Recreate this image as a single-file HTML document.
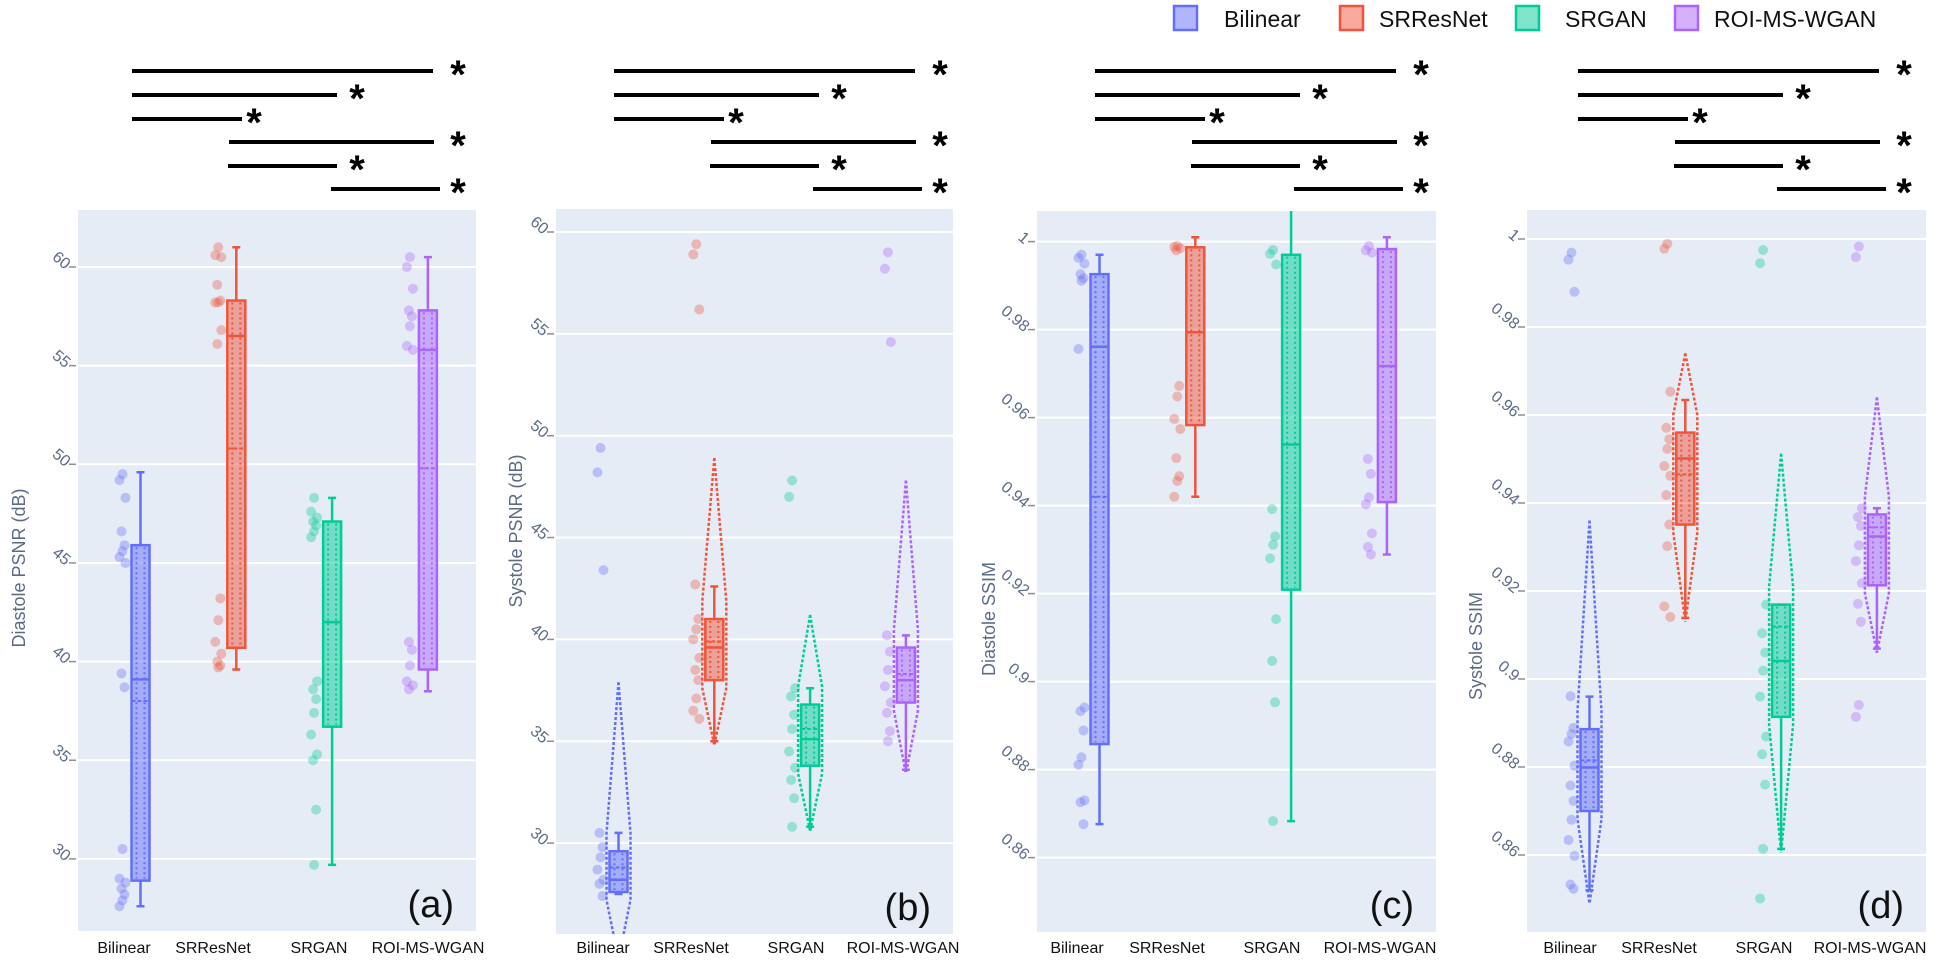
<!DOCTYPE html>
<html><head><meta charset="utf-8"><style>
html,body{margin:0;padding:0;background:#fff;}
svg{display:block;font-family:"Liberation Sans",sans-serif;}
</style></head><body>
<svg id="fig" width="1948" height="964" viewBox="0 0 1948 964" xmlns="http://www.w3.org/2000/svg">
<defs id="defs"></defs>
<g id="legend"></g>
<g id="panels"></g>
</svg>
<script>
const categories = ["Bilinear","SRResNet","SRGAN","ROI-MS-WGAN"];
const colors = ["#636efa","#ef553b","#00cc96","#ab63fa"];

// Panel (a) Diastole PSNR
const aUpper = [49.6, 61.0, 48.3, 60.5];
const aQ3 = [45.9, 58.3, 47.1, 57.8];
const aMedian = [39.1, 56.5, 42.0, 55.8];
const aMean = [38.0, 50.8, 42.0, 49.8];
const aQ1 = [28.9, 40.7, 36.7, 39.6];
const aLower = [27.6, 39.6, 29.7, 38.5];
const aPoints = [
  [49.5,49.2,48.3,46.6,45.9,45.6,45.3,45.0,39.4,38.7,30.5,29.0,28.8,28.5,28.2,27.9,27.6],
  [61.0,60.6,60.5,59.1,58.3,58.2,58.2,56.8,56.1,43.2,42.1,41.0,40.4,40.0,39.8,39.7],
  [48.3,47.6,47.3,47.1,46.9,46.6,46.3,39.0,38.6,38.1,37.4,36.3,35.3,35.0,32.5,29.7],
  [60.5,60.0,58.9,57.8,57.5,57.0,56.0,55.8,41.0,40.6,39.8,39.0,38.8,38.6]
];
// Panel (b) Systole PSNR
const bUpper = [30.5, 42.6, 37.6, 40.2];
const bQ3 = [29.6, 41.0, 36.8, 39.6];
const bMedian = [28.2, 39.6, 35.1, 38.0];
const bMean = [28.8, 39.9, 35.6, 38.3];
const bQ1 = [27.6, 38.0, 33.8, 36.9];
const bLower = [27.5, 35.0, 30.8, 33.6];
const bViolinTop = [37.9, 48.9, 41.2, 47.8];
const bViolinBottom = [24.5, 35.0, 30.8, 33.6];
const bPoints = [
  [49.4,48.2,43.4,30.5,29.8,29.3,28.7,28.2,28.0,27.4],
  [59.4,58.9,56.2,42.7,41.0,40.5,40.0,39.1,38.5,38.0,37.1,36.5,36.1],
  [47.8,47.0,37.6,37.2,36.3,35.6,34.5,33.7,33.1,32.2,30.8],
  [59.0,58.2,54.6,40.2,39.4,38.5,37.7,36.9,36.4,35.5,35.0]
];
// Panel (c) Diastole SSIM
const cUpper = [0.997, 1.001, 1.01, 1.001];
const cQ3 = [0.9926, 0.9987, 0.997, 0.9983];
const cMedian = [0.9761, 0.9794, 0.9539, 0.9717];
const cMean = [0.942, 0.9794, 0.9539, 0.9717];
const cQ1 = [0.8858, 0.9583, 0.9209, 0.9408];
const cLower = [0.8676, 0.942, 0.8683, 0.9289];
const cPoints = [
  [0.997,0.9963,0.995,0.9926,0.9917,0.9911,0.9756,0.8941,0.8933,0.8889,0.8828,0.8811,0.873,0.8726,0.8676],
  [0.999,0.9988,0.9985,0.998,0.9672,0.9648,0.9597,0.9574,0.9508,0.9467,0.9456,0.942],
  [0.9981,0.9972,0.9948,0.9392,0.933,0.9311,0.928,0.9142,0.9047,0.8953,0.8683],
  [0.999,0.998,0.9975,0.9506,0.9472,0.9419,0.9403,0.9337,0.9306,0.9289]
];
// Panel (d) Systole SSIM
const dUpper = [0.896, 0.9634, 0.9169, 0.9388];
const dQ3 = [0.8886, 0.956, 0.9169, 0.9374];
const dMedian = [0.8799, 0.9501, 0.9041, 0.9324];
const dMean = [0.8815, 0.9465, 0.9119, 0.9345];
const dQ1 = [0.87, 0.9351, 0.8914, 0.9213];
const dLower = [0.852, 0.9139, 0.8614, 0.9069];
const dViolinTop = [0.936, 0.974, 0.9512, 0.964];
const dViolinBottom = [0.8498, 0.9139, 0.8614, 0.9069];
const dPoints = [
  [0.9969,0.9953,0.988,0.8961,0.8889,0.8875,0.8858,0.8803,0.8758,0.8723,0.868,0.8634,0.8598,0.8533,0.8523],
  [0.9989,0.9978,0.9653,0.9571,0.9545,0.9523,0.9484,0.9462,0.9418,0.9351,0.9302,0.9165,0.9141],
  [0.9975,0.9945,0.9169,0.9104,0.906,0.9019,0.896,0.8869,0.8829,0.876,0.8614,0.8501],
  [0.9983,0.9959,0.9388,0.9368,0.9348,0.9304,0.9268,0.9218,0.9171,0.913,0.8941,0.8914]
];
const psnrTicks = [30,35,40,45,50,55,60];
const ssimTicks = [0.86,0.88,0.9,0.92,0.94,0.96,0.98,1];
const ssimTickLabels = ["0.86","0.88","0.9","0.92","0.94","0.96","0.98","1"];
const psnrTickLabels = ["30","35","40","45","50","55","60"];

const NS = "http://www.w3.org/2000/svg";
function mk(tag, attrs, parent){const e=document.createElementNS(NS,tag);for(const k in attrs)e.setAttribute(k,attrs[k]);if(parent)parent.appendChild(e);return e;}
function rgba(hex,a){const n=parseInt(hex.slice(1),16);return `rgba(${n>>16},${(n>>8)&255},${n&255},${a})`;}

const panelDefs = [
 {key:"a",x0:78,x1:476,y0:210,y1:931,refV:60,refY:267,ppu:19.73,ticks:psnrTicks,tickLabels:psnrTickLabels,title:"Diastole PSNR (dB)",titleX:20,titleY:568,
  up:aUpper,q3:aQ3,med:aMedian,mean:aMean,q1:aQ1,lo:aLower,pts:aPoints,vt:null,vb:null,barStart:132,labelRel:[46,135,241,350],letter:"(a)"},
 {key:"b",x0:556,x1:953,y0:209,y1:934,refV:60,refY:232,ppu:20.37,ticks:psnrTicks,tickLabels:psnrTickLabels,title:"Systole PSNR (dB)",titleX:517,titleY:531,
  up:bUpper,q3:bQ3,med:bMedian,mean:bMean,q1:bQ1,lo:bLower,pts:bPoints,vt:bViolinTop,vb:bViolinBottom,barStart:614,labelRel:[47,135,240,347],letter:"(b)"},
 {key:"c",x0:1037,x1:1436,y0:211,y1:932,refV:1,refY:241.6,ppu:4400,ticks:ssimTicks,tickLabels:ssimTickLabels,title:"Diastole SSIM",titleX:990,titleY:619,
  up:cUpper,q3:cQ3,med:cMedian,mean:cMean,q1:cQ1,lo:cLower,pts:cPoints,vt:null,vb:null,barStart:1095,labelRel:[40,130,235,343],letter:"(c)"},
 {key:"d",x0:1527,x1:1926,y0:210,y1:932,refV:1,refY:239,ppu:4400,ticks:ssimTicks,tickLabels:ssimTickLabels,title:"Systole SSIM",titleX:1477,titleY:646,
  up:dUpper,q3:dQ3,med:dMedian,mean:dMean,q1:dQ1,lo:dLower,pts:dPoints,vt:dViolinTop,vb:dViolinBottom,barStart:1578,labelRel:[43,132,237,343],letter:"(d)"}
];

// significance bars: [relStart, relEnd, y, starRel]
const sigBars = [[0,301,71,326],[0,205,95,225],[0,110,119,122],[97,302,142,326],[96,205,166,225],[199,308,189,326]];

const defs = document.getElementById("defs");
const root = document.getElementById("panels");

panelDefs.forEach(p=>{
  const yOf = v => p.refY + (p.refV - v)*p.ppu;
  const xOf = i => p.x0 + 62.5 + i*95.8;
  const g = mk("g",{},root);
  
  
  const cp = mk("clipPath",{id:"clip-"+p.key},defs);
  mk("rect",{x:p.x0,y:p.y0,width:p.x1-p.x0,height:p.y1-p.y0},cp);
  const bg = mk("rect",{x:p.x0,y:p.y0,width:p.x1-p.x0,height:p.y1-p.y0,fill:"#e5ecf6"},g);
  
  
  // grid + ticks
  p.ticks.forEach((t,ti)=>{
    const y = yOf(t);
    const gl = mk("line",{x1:p.x0,x2:p.x1,y1:y,y2:y,stroke:"#fff","stroke-width":2},g);
    
    
    const tk = mk("line",{x1:p.x0-9,x2:p.x0-2,y1:y,y2:y,stroke:"#8a8f99","stroke-width":1.5},g);
    
    
    const lx = p.x0-13, ly = y+3;
    const tl = mk("text",{x:lx,y:ly,"text-anchor":"end","font-size":16,fill:"#5b6b86",transform:`rotate(40 ${lx} ${ly})`},g);
    tl.textContent = p.tickLabels[ti];
    
    
  });
  // y title
  const tt = mk("text",{x:p.titleX,y:p.titleY,"text-anchor":"middle","font-size":18,fill:"#5b6b86",transform:`rotate(-90 ${p.titleX} ${p.titleY})`,"dominant-baseline":"middle"},g);
  tt.textContent = p.title;
  
  
  // x labels
  categories.forEach((c,i)=>{
    const xl = mk("text",{x:p.x0+p.labelRel[i],y:953,"text-anchor":"middle","font-size":16,fill:"#111"},g);
    xl.textContent = c;
    
    
  });
  // boxes
  const gc = mk("g",{"clip-path":`url(#clip-${p.key})`},g);
  categories.forEach((c,i)=>{
    const col = colors[i], cx = xOf(i), hw = 9;
    const bx = mk("g",{},gc);
    
    
    // violin
    if(p.vt){
      const yt=yOf(p.vt[i]), yb=yOf(p.vb[i]), yw1=yOf(p.q3[i])-18, yw2=yOf(p.q1[i])+8, vw=12;
      const vp = mk("path",{d:`M${cx},${yt} L${cx-vw},${yw1} L${cx-vw},${yw2} L${cx},${yb+4} M${cx},${yt} L${cx+vw},${yw1} L${cx+vw},${yw2} L${cx},${yb+4}`,fill:"none",stroke:col,"stroke-width":2.5,"stroke-dasharray":"3 2"},bx);
      
      
    }
    const yU=yOf(p.up[i]), y3=yOf(p.q3[i]), yM=yOf(p.med[i]), yMe=yOf(p.mean[i]), y1=yOf(p.q1[i]), yL=yOf(p.lo[i]);
    const wk = mk("path",{d:`M${cx},${yU} L${cx},${y3} M${cx},${y1} L${cx},${yL} M${cx-4},${yU} L${cx+4},${yU} M${cx-4},${yL} L${cx+4},${yL}`,stroke:col,"stroke-width":2.5,fill:"none"},bx);
    
    
    const r = mk("rect",{x:cx-hw,y:y3,width:2*hw,height:y1-y3,fill:rgba(col,0.5),stroke:col,"stroke-width":2.5},bx);
    
    
    const dots = mk("path",{d:`M${cx-4},${y3+2} L${cx-4},${y1-2} M${cx+4},${y3+2} L${cx+4},${y1-2}`,stroke:col,"stroke-width":2,"stroke-dasharray":"2 3",fill:"none"},bx);
    
    
    const md = mk("line",{x1:cx-hw,x2:cx+hw,y1:yM,y2:yM,stroke:col,"stroke-width":2.5},bx);
    
    
    const mn = mk("line",{x1:cx-hw,x2:cx+hw,y1:yMe,y2:yMe,stroke:col,"stroke-width":2,"stroke-dasharray":"4 2"},bx);
    
    
    p.pts[i].forEach((v,k)=>{
      const jit = [0,-3,3,-1,2][k%5];
      const pt = mk("circle",{cx:cx-18+jit,cy:yOf(v),r:5,fill:rgba(col,0.35)},bx);
      
      
    });
  });
  // panel letter
  const lt = mk("text",{x:p.x1-22,y:p.y1-14,"text-anchor":"end","font-size":38,fill:"#111"},g);
  lt.textContent = p.letter;
  
  
  // significance bars
  sigBars.forEach(s=>{
    const ln = mk("line",{x1:p.barStart+s[0],x2:p.barStart+s[1],y1:s[2],y2:s[2],stroke:"#000","stroke-width":4},g);
    
    
    const st = mk("text",{x:p.barStart+s[3],y:s[2]+17,"text-anchor":"middle","font-size":40,"font-weight":"bold",fill:"#000"},g);
    st.textContent = "*";
    
    
  });
});

// legend
const legendX = [1173,1339,1515,1674];
const lg = document.getElementById("legend");
categories.forEach((c,i)=>{
  const it = mk("g",{},lg);
  
  
  const sq = mk("rect",{x:legendX[i]+1,y:6,width:23,height:24,fill:rgba(colors[i],0.5),stroke:colors[i],"stroke-width":2.5},it);
  
  
  const tx = mk("text",{x:legendX[i]+(i===0?51:i===2?50:40),y:27,"font-size":23,fill:"#111"},it);
  tx.textContent = c;
  
  
});
</script>
</body></html>
